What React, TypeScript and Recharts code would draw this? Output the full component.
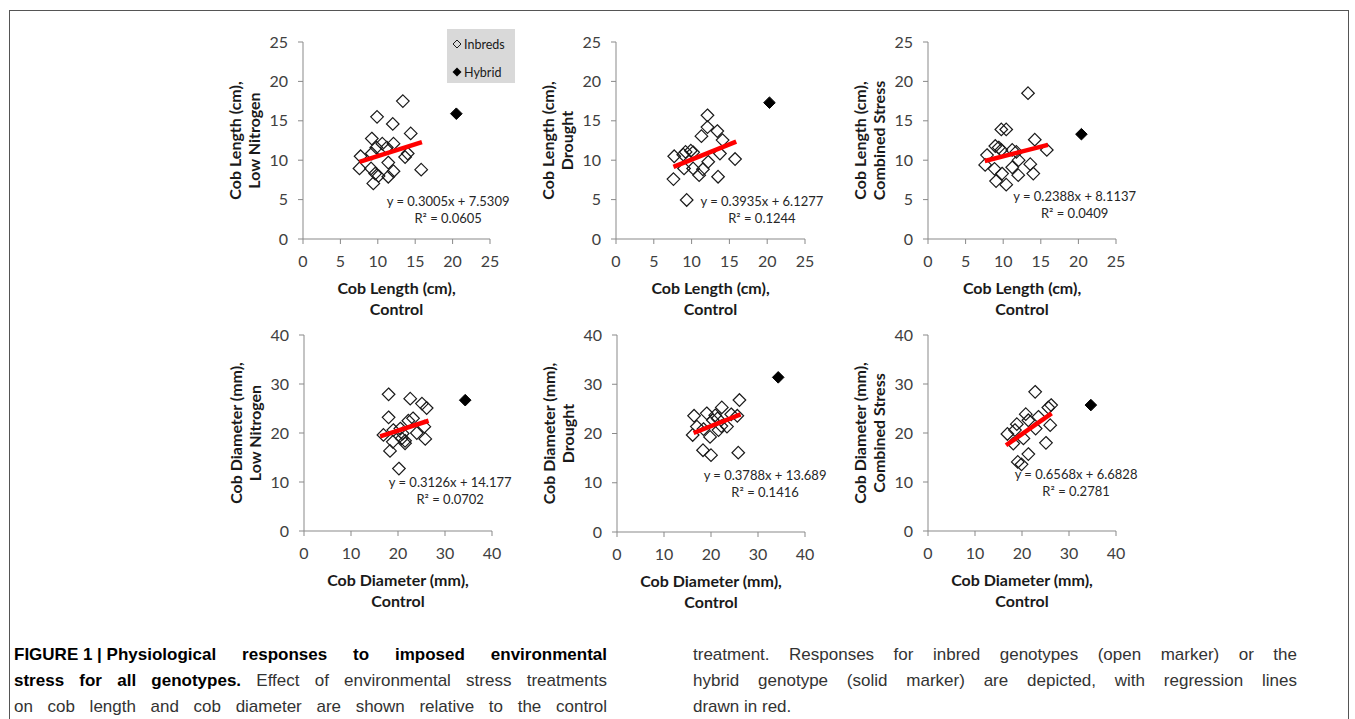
import React from "react";
import {
  ScatterChart,
  Scatter,
  XAxis,
  YAxis,
  ReferenceDot,
  Legend,
} from "recharts";

// Values (x = control, y = stress treatment)
const lengthTicks = [0, 5, 10, 15, 20, 25];
const diameterTicks = [0, 10, 20, 30, 40];

const lengthLowN = [
  { x: 13.35, y: 17.5 }, { x: 9.9, y: 15.5 }, { x: 12.0, y: 14.6 }, { x: 14.4, y: 13.4 },
  { x: 9.2, y: 12.75 }, { x: 10.6, y: 12.1 }, { x: 12.1, y: 12.1 }, { x: 9.8, y: 11.6 },
  { x: 11.2, y: 11.6 }, { x: 7.7, y: 10.5 }, { x: 9.2, y: 10.85 }, { x: 13.65, y: 10.4 },
  { x: 14.0, y: 10.85 }, { x: 7.55, y: 8.95 }, { x: 9.1, y: 8.95 }, { x: 11.4, y: 9.7 },
  { x: 9.65, y: 8.3 }, { x: 10.1, y: 8.0 }, { x: 12.1, y: 8.6 }, { x: 11.4, y: 7.9 },
  { x: 15.8, y: 8.8 }, { x: 9.4, y: 7.05 },
];
const lengthLowNHybrid = [{ x: 20.5, y: 15.9 }];
const lengthLowNFit = [{ x: 7.55, y: 9.8 }, { x: 15.9, y: 12.3 }];
const lengthLowNEq = ["y = 0.3005x + 7.5309", "R\u00b2 = 0.0605"];

const lengthDrought = [
  { x: 12.1, y: 15.7 }, { x: 12.1, y: 14.2 }, { x: 13.4, y: 13.7 }, { x: 11.3, y: 13.05 },
  { x: 14.1, y: 12.55 }, { x: 9.2, y: 11.05 }, { x: 9.9, y: 11.2 }, { x: 10.2, y: 11.0 },
  { x: 8.9, y: 10.7 }, { x: 7.7, y: 10.5 }, { x: 13.75, y: 10.85 }, { x: 15.75, y: 10.15 },
  { x: 12.2, y: 9.8 }, { x: 9.0, y: 8.95 }, { x: 10.2, y: 8.95 }, { x: 11.5, y: 8.85 },
  { x: 11.0, y: 8.1 }, { x: 7.6, y: 7.6 }, { x: 13.5, y: 7.9 }, { x: 9.35, y: 4.95 },
];
const lengthDroughtHybrid = [{ x: 20.3, y: 17.3 }];
const lengthDroughtFit = [{ x: 7.6, y: 9.15 }, { x: 15.9, y: 12.35 }];
const lengthDroughtEq = ["y = 0.3935x + 6.1277", "R\u00b2 = 0.1244"];

const lengthCombined = [
  { x: 13.3, y: 18.5 }, { x: 9.75, y: 13.9 }, { x: 10.4, y: 13.9 }, { x: 14.2, y: 12.6 },
  { x: 8.95, y: 11.8 }, { x: 9.4, y: 11.6 }, { x: 9.75, y: 11.3 }, { x: 11.2, y: 11.3 },
  { x: 11.75, y: 11.05 }, { x: 15.8, y: 11.3 }, { x: 7.85, y: 10.65 }, { x: 12.05, y: 10.0 },
  { x: 7.6, y: 9.4 }, { x: 8.85, y: 8.9 }, { x: 11.2, y: 9.1 }, { x: 13.6, y: 9.5 },
  { x: 9.85, y: 8.3 }, { x: 12.0, y: 8.1 }, { x: 14.0, y: 8.3 }, { x: 9.05, y: 7.35 },
  { x: 10.4, y: 6.9 },
];
const lengthCombinedHybrid = [{ x: 20.4, y: 13.3 }];
const lengthCombinedFit = [{ x: 7.55, y: 9.9 }, { x: 15.95, y: 11.95 }];
const lengthCombinedEq = ["y = 0.2388x + 8.1137", "R\u00b2 = 0.0409"];

const diameterLowN = [
  { x: 18.0, y: 27.9 }, { x: 22.6, y: 27.0 }, { x: 25.1, y: 26.0 }, { x: 26.1, y: 25.1 },
  { x: 18.0, y: 23.2 }, { x: 23.2, y: 23.0 }, { x: 22.2, y: 22.5 }, { x: 25.6, y: 21.3 },
  { x: 16.9, y: 19.6 }, { x: 19.0, y: 20.6 }, { x: 20.5, y: 20.9 }, { x: 21.0, y: 19.9 },
  { x: 24.0, y: 20.0 }, { x: 20.8, y: 18.9 }, { x: 21.5, y: 18.4 }, { x: 18.9, y: 18.2 },
  { x: 25.8, y: 18.8 }, { x: 18.3, y: 16.35 }, { x: 20.2, y: 12.75 }, { x: 21.5, y: 17.9 },
];
const diameterLowNHybrid = [{ x: 34.3, y: 26.7 }];
const diameterLowNFit = [{ x: 16.2, y: 19.3 }, { x: 26.5, y: 22.5 }];
const diameterLowNEq = ["y = 0.3126x + 14.177", "R\u00b2 = 0.0702"];

const diameterDrought = [
  { x: 26.05, y: 26.8 }, { x: 22.3, y: 25.3 }, { x: 16.4, y: 23.6 }, { x: 19.1, y: 24.1 },
  { x: 20.9, y: 23.7 }, { x: 24.3, y: 23.9 }, { x: 25.6, y: 23.6 }, { x: 20.4, y: 22.7 },
  { x: 21.4, y: 23.05 }, { x: 22.2, y: 21.5 }, { x: 17.0, y: 21.4 }, { x: 18.4, y: 20.9 },
  { x: 16.1, y: 19.7 }, { x: 19.8, y: 19.3 }, { x: 21.6, y: 20.7 }, { x: 23.4, y: 21.4 },
  { x: 18.3, y: 16.6 }, { x: 20.0, y: 15.6 }, { x: 25.8, y: 16.1 },
];
const diameterDroughtHybrid = [{ x: 34.3, y: 31.4 }];
const diameterDroughtFit = [{ x: 16.3, y: 20.1 }, { x: 26.3, y: 23.9 }];
const diameterDroughtEq = ["y = 0.3788x + 13.689", "R\u00b2 = 0.1416"];

const diameterCombined = [
  { x: 22.8, y: 28.4 }, { x: 26.2, y: 25.7 }, { x: 25.6, y: 25.2 }, { x: 20.8, y: 23.85 },
  { x: 21.35, y: 22.6 }, { x: 23.5, y: 23.3 }, { x: 18.9, y: 21.8 }, { x: 26.0, y: 21.6 },
  { x: 16.9, y: 19.8 }, { x: 18.5, y: 20.6 }, { x: 22.9, y: 20.9 }, { x: 18.15, y: 17.85 },
  { x: 20.3, y: 18.9 }, { x: 25.1, y: 18.0 }, { x: 21.35, y: 15.7 }, { x: 19.1, y: 14.1 },
  { x: 19.9, y: 13.6 },
];
const diameterCombinedHybrid = [{ x: 34.65, y: 25.7 }];
const diameterCombinedFit = [{ x: 16.6, y: 17.5 }, { x: 26.3, y: 24.0 }];
const diameterCombinedEq = ["y = 0.6568x + 6.6828", "R\u00b2 = 0.2781"];

const FONT = "Lato, 'Open Sans', sans-serif";
const AXIS = "#898989";
const TICK_TEXT = "#404040";
const TITLE = "#1a1a1a";
const RED = "#ff0000";

// plot-area rectangles in page pixels
const panels = [
  { left: 303, top: 42, w: 187, h: 197, ticks: lengthTicks, inbred: lengthLowN, hybrid: lengthLowNHybrid, fit: lengthLowNFit, eq: lengthLowNEq, eqAt: { x: 19.4, y: 4.8 }, xTitle: ["Cob Length (cm),", "Control"], yTitle: ["Cob Length (cm),", "Low Nitrogen"], legend: true },
  { left: 616, top: 42, w: 189, h: 197, ticks: lengthTicks, inbred: lengthDrought, hybrid: lengthDroughtHybrid, fit: lengthDroughtFit, eq: lengthDroughtEq, eqAt: { x: 19.3, y: 4.8 }, xTitle: ["Cob Length (cm),", "Control"], yTitle: ["Cob Length (cm),", "Drought"] },
  { left: 928, top: 42, w: 188, h: 197, ticks: lengthTicks, inbred: lengthCombined, hybrid: lengthCombinedHybrid, fit: lengthCombinedFit, eq: lengthCombinedEq, eqAt: { x: 19.5, y: 5.5 }, xTitle: ["Cob Length (cm),", "Control"], yTitle: ["Cob Length (cm),", "Combined Stress"] },
  { left: 304, top: 335, w: 188, h: 196, ticks: diameterTicks, inbred: diameterLowN, hybrid: diameterLowNHybrid, fit: diameterLowNFit, eq: diameterLowNEq, eqAt: { x: 31.1, y: 10.0 }, xTitle: ["Cob Diameter (mm),", "Control"], yTitle: ["Cob Diameter (mm),", "Low Nitrogen"] },
  { left: 617, top: 335, w: 188, h: 197, ticks: diameterTicks, inbred: diameterDrought, hybrid: diameterDroughtHybrid, fit: diameterDroughtFit, eq: diameterDroughtEq, eqAt: { x: 31.5, y: 11.6 }, xTitle: ["Cob Diameter (mm),", "Control"], yTitle: ["Cob Diameter (mm),", "Drought"] },
  { left: 928, top: 335, w: 188, h: 196, ticks: diameterTicks, inbred: diameterCombined, hybrid: diameterCombinedHybrid, fit: diameterCombinedFit, eq: diameterCombinedEq, eqAt: { x: 31.5, y: 11.6 }, xTitle: ["Cob Diameter (mm),", "Control"], yTitle: ["Cob Diameter (mm),", "Combined Stress"] },
];

const M = { top: 22, right: 30, bottom: 0, left: 33 };
const Y_W = 70;
const X_H = 85;

const diamond = (cx: number, cy: number, r: number) =>
  `${cx},${cy - r} ${cx + r},${cy} ${cx},${cy + r} ${cx - r},${cy}`;

const OpenDiamond = (p: any) => (
  <polygon points={diamond(p.cx, p.cy, 6.3)} fill="none" stroke="#1a1a1a" strokeWidth={1.2} />
);
const SolidDiamond = (p: any) => (
  <polygon points={diamond(p.cx, p.cy, 5.8)} fill="#000" stroke="#000" strokeWidth={1} />
);
const NoDot = () => <g />;

function YTitle({ viewBox, lines }: any) {
  const right = viewBox.x + viewBox.width;
  const cy = viewBox.y + viewBox.height / 2;
  return (
    <g>
      {lines.map((t: string, i: number) => {
        const x = right - 69 + i * 19;
        return (
          <text key={i} x={x} y={cy} transform={`rotate(-90 ${x} ${cy})`} textAnchor="middle"
            dominantBaseline="central" fontFamily={FONT} fontWeight={700} fontSize={16} fill={TITLE}>
            {t}
          </text>
        );
      })}
    </g>
  );
}

function XTitle({ viewBox, lines }: any) {
  const cx = viewBox.x + viewBox.width / 2;
  return (
    <g>
      {lines.map((t: string, i: number) => (
        <text key={i} x={cx} y={viewBox.y + 48 + i * 21} textAnchor="middle" dominantBaseline="central"
          fontFamily={FONT} fontWeight={700} fontSize={16} fill={TITLE}>
          {t}
        </text>
      ))}
    </g>
  );
}

const LegendBox = () => (
  <div style={{ width: 68, height: 54, background: "#d9d9d9", fontFamily: FONT, fontSize: 12.5, color: "#1a1a1a", boxSizing: "border-box", paddingTop: 5, paddingLeft: 5 }}>
    <div style={{ display: "flex", alignItems: "center", height: 20 }}>
      <svg width={10} height={10}><polygon points={diamond(5, 5, 4)} fill="none" stroke="#1a1a1a" strokeWidth={1} /></svg>
      <span style={{ marginLeft: 2 }}>Inbreds</span>
    </div>
    <div style={{ display: "flex", alignItems: "center", height: 20, marginTop: 8 }}>
      <svg width={10} height={10}><polygon points={diamond(5, 5, 4.5)} fill="#000" /></svg>
      <span style={{ marginLeft: 2 }}>Hybrid</span>
    </div>
  </div>
);

function Panel({ p }: { p: (typeof panels)[number] }) {
  const max = p.ticks[p.ticks.length - 1];
  const tick = { fontSize: 16, fill: TICK_TEXT, fontFamily: FONT };
  return (
    <div style={{ position: "absolute", left: p.left - M.left - Y_W, top: p.top - M.top }}>
      <ScatterChart width={p.w + M.left + Y_W + M.right} height={p.h + M.top + M.bottom + X_H} margin={M}>
        <XAxis type="number" dataKey="x" domain={[0, max]} ticks={p.ticks} height={X_H}
          stroke={AXIS} tick={tick} tickSize={5} tickMargin={12} tickLine={{ stroke: AXIS }}
          label={(lp: any) => <XTitle viewBox={lp.viewBox} lines={p.xTitle} />} />
        <YAxis type="number" dataKey="y" domain={[0, max]} ticks={p.ticks} width={Y_W}
          stroke={AXIS} tick={tick} tickSize={5} tickMargin={10} tickLine={{ stroke: AXIS }}
          label={(lp: any) => <YTitle viewBox={lp.viewBox} lines={p.yTitle} />} />
        <Scatter data={p.inbred} shape={OpenDiamond} isAnimationActive={false} />
        <Scatter data={p.hybrid} shape={SolidDiamond} isAnimationActive={false} />
        <Scatter data={p.fit} shape={NoDot} line={{ stroke: RED, strokeWidth: 4.5 }} isAnimationActive={false} />
        <ReferenceDot x={p.eqAt.x} y={p.eqAt.y} r={0} ifOverflow="visible"
          shape={(sp: any) => (
            <g>
              <text x={sp.cx} y={sp.cy} textAnchor="middle" dominantBaseline="central" fontFamily={FONT} fontSize={13} fill="#262626">{p.eq[0]}</text>
              <text x={sp.cx} y={sp.cy + 17} textAnchor="middle" dominantBaseline="central" fontFamily={FONT} fontSize={13} fill="#262626">{p.eq[1]}</text>
            </g>
          )} />
        {p.legend && (
          <Legend layout="vertical" align="center" verticalAlign="middle" content={LegendBox}
            wrapperStyle={{ left: 247, top: 9, width: 68, height: 54 }} />
        )}
      </ScatterChart>
    </div>
  );
}

const capBase: React.CSSProperties = {
  fontFamily: "'Liberation Sans', Arial, sans-serif",
  fontSize: 17,
  lineHeight: "26px",
  color: "#333",
};
const just: React.CSSProperties = { textAlign: "justify", textAlignLast: "justify" };

export default function App() {
  return (
    <div style={{ position: "fixed", left: 0, top: 0, width: 1355, height: 719, background: "#fff", overflow: "hidden" }}>
      <div style={{ position: "absolute", left: 9, top: 10, width: 1340, height: 740, boxSizing: "border-box", border: "1px solid #555" }} />
      {panels.map((p, i) => (
        <Panel key={i} p={p} />
      ))}
      <div style={{ ...capBase, position: "absolute", left: 14, top: 642, width: 593 }}>
        <div style={{ ...just, fontWeight: 700, color: "#000" }}>
          <span style={{ display: "inline-block", whiteSpace: "nowrap" }}>FIGURE 1 | Physiological</span> responses to imposed environmental
        </div>
        <div style={just}>
          <b style={{ color: "#000" }}>stress for all genotypes.</b> Effect of environmental stress treatments
        </div>
        <div style={just}>on cob length and cob diameter are shown relative to the control</div>
      </div>
      <div style={{ ...capBase, position: "absolute", left: 693, top: 642, width: 604 }}>
        <div style={just}>treatment. Responses for inbred genotypes (open marker) or the</div>
        <div style={just}>hybrid genotype (solid marker) are depicted, with regression lines</div>
        <div>drawn in red.</div>
      </div>
    </div>
  );
}
